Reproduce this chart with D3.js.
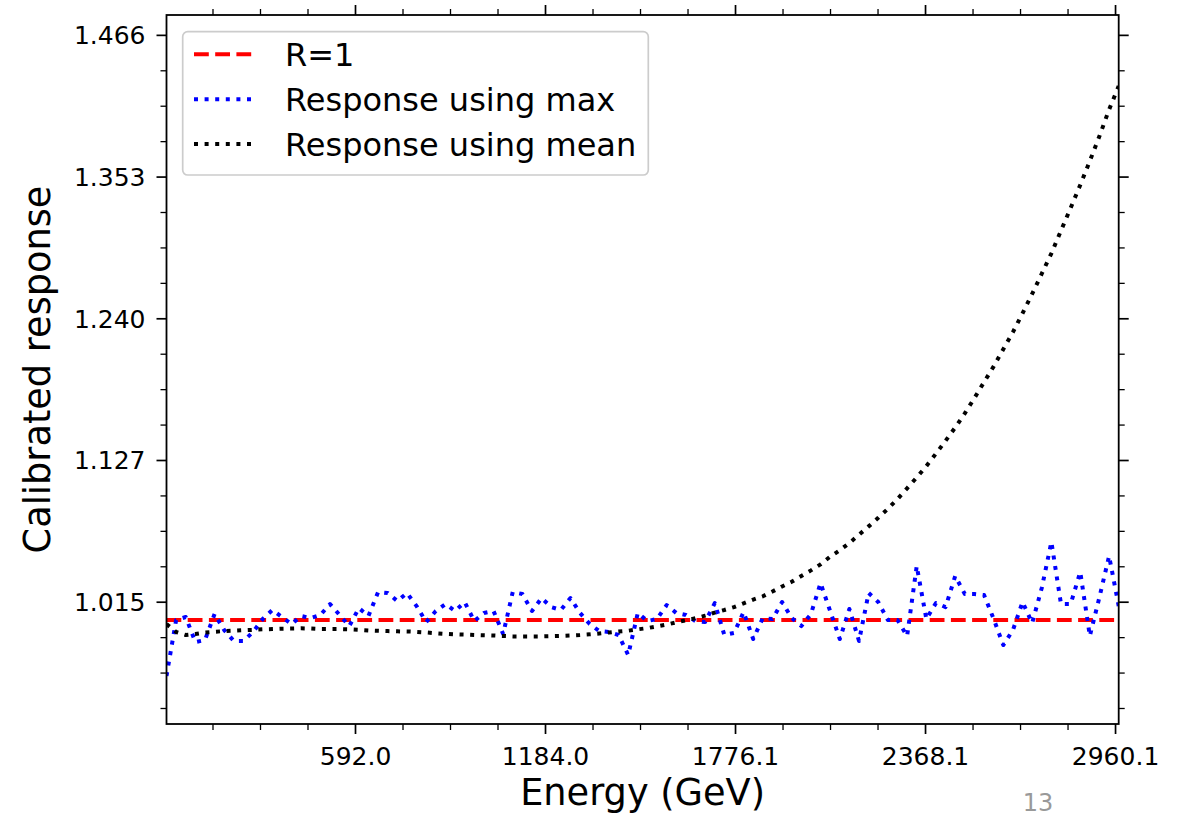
<!DOCTYPE html>
<html>
<head>
<meta charset="utf-8">
<script src="https://cdn.jsdelivr.net/npm/d3@7"></script>
<style>
  body { margin: 0; background: #fff; }
  svg { display: block; }
  text { font-family: "DejaVu Sans", sans-serif; fill: #000; }
</style>
</head>
<body>
<svg id="chart" width="1186" height="816"></svg>
<script>
// Energy bins (GeV)
const energy = [
  4.7, 34.7, 64.6, 94.6, 124.6, 154.5, 184.5, 214.5, 244.4, 274.4,
  304.4, 334.3, 364.3, 394.3, 424.2, 454.2, 484.2, 514.2, 544.1, 574.1,
  604.1, 634.0, 664.0, 694.0, 723.9, 753.9, 783.9, 813.8, 843.8, 873.8,
  903.7, 933.7, 963.7, 993.6, 1023.6, 1053.6, 1083.5, 1113.5, 1143.5, 1173.5,
  1203.4, 1233.4, 1263.4, 1293.3, 1323.3, 1353.3, 1383.2, 1413.2, 1443.2, 1473.1,
  1503.1, 1533.1, 1563.0, 1593.0, 1623.0, 1652.9, 1682.9, 1712.9, 1742.8, 1772.8,
  1802.8, 1832.7, 1862.7, 1892.7, 1922.7, 1952.6, 1982.6, 2012.6, 2042.5, 2072.5,
  2102.5, 2132.4, 2162.4, 2192.4, 2222.3, 2252.3, 2282.3, 2312.2, 2342.2, 2372.2,
  2402.1, 2432.1, 2462.1, 2492.0, 2522.0, 2552.0, 2582.0, 2611.9, 2641.9, 2671.9,
  2701.8, 2731.8, 2761.8, 2791.7, 2821.7, 2851.7, 2881.6, 2911.6, 2941.6, 2971.5
];

// Calibrated response using the maximum
const responseMax = [
  0.9555, 1.0000, 1.0024, 0.9825, 0.9841, 1.0048, 0.9920, 0.9833, 0.9833, 0.9905,
  1.0008, 1.0080, 1.0024, 0.9968, 1.0032, 1.0016, 1.0040, 1.0127, 1.0040, 0.9952,
  1.0095, 1.0032, 1.0223, 1.0215, 1.0151, 1.0215, 1.0111, 0.9984, 1.0072, 1.0127,
  1.0072, 1.0143, 0.9992, 1.0056, 1.0072, 0.9889, 1.0223, 1.0207, 1.0072, 1.0175,
  1.0103, 1.0080, 1.0175, 1.0056, 0.9968, 0.9912, 0.9905, 0.9881, 0.9722, 1.0056,
  0.9992, 1.0008, 1.0119, 1.0056, 1.0040, 0.9992, 0.9984, 1.0135, 0.9881, 0.9897,
  1.0064, 0.9849, 1.0016, 1.0008, 1.0143, 1.0016, 0.9952, 1.0048, 1.0294, 1.0072,
  0.9849, 1.0088, 0.9833, 1.0215, 1.0143, 1.0000, 1.0000, 0.9873, 1.0430, 1.0008,
  1.0135, 1.0103, 1.0350, 1.0207, 1.0207, 1.0199, 1.0008, 0.9801, 0.9920, 1.0143,
  0.9976, 1.0255, 1.0621, 1.0127, 1.0127, 1.0382, 0.9873, 1.0183, 1.0509, 1.0111
];

// Calibrated response using the mean
const responseMean = [
  0.9968, 0.9905, 0.9881, 0.9889, 0.9901, 0.9907, 0.9912, 0.9915, 0.9919, 0.9922,
  0.9926, 0.9928, 0.9931, 0.9932, 0.9934, 0.9932, 0.9928, 0.9928, 0.9928, 0.9926,
  0.9922, 0.9917, 0.9914, 0.9912, 0.9910, 0.9909, 0.9906, 0.9901, 0.9895, 0.9890,
  0.9886, 0.9884, 0.9881, 0.9879, 0.9877, 0.9873, 0.9870, 0.9870, 0.9870, 0.9870,
  0.9872, 0.9874, 0.9877, 0.9881, 0.9886, 0.9893, 0.9901, 0.9909, 0.9915, 0.9926,
  0.9936, 0.9950, 0.9964, 0.9982, 0.9998, 1.0014, 1.0035, 1.0059, 1.0080, 1.0103,
  1.0133, 1.0163, 1.0189, 1.0227, 1.0267, 1.0304, 1.0350, 1.0395, 1.0443, 1.0504,
  1.0555, 1.0613, 1.0679, 1.0745, 1.0813, 1.0885, 1.0963, 1.1048, 1.1134, 1.1225,
  1.1324, 1.1426, 1.1531, 1.1644, 1.1766, 1.1893, 1.2018, 1.2154, 1.2290, 1.2440,
  1.2594, 1.2755, 1.2917, 1.3098, 1.3278, 1.3461, 1.3652, 1.3850, 1.4061, 1.4248
];

const referenceLevel = 1;

const xTickValues = [592.02, 1184.04, 1776.06, 2368.08, 2960.1];
const xTickLabels = ["592.0", "1184.0", "1776.1", "2368.1", "2960.1"];
const yTickValues = [1.01458, 1.12731, 1.24004, 1.35277, 1.4655];
const yTickLabels = ["1.015", "1.127", "1.240", "1.353", "1.466"];
const yLimits = [0.9173, 1.4813];

const legendLabels = ["R=1", "Response using max", "Response using mean"];
const xTitle = "Energy (GeV)";
const yTitle = "Calibrated response";
const pageNumber = "13";

// ---- layout ----
const plot = { left: 166.5, right: 1118.7, top: 15, bottom: 724 };
const svg = d3.select("#chart");

const x = d3.scaleLinear().domain(d3.extent(energy)).range([plot.left, plot.right]);
const y = d3.scaleLinear().domain(yLimits).range([plot.bottom, plot.top]);

// minor tick positions: four subdivisions between major ticks
function minorTicks(major, lo, hi) {
  const step = (major[1] - major[0]) / 4;
  const out = [];
  for (let v = major[0] - 8 * step; v <= hi + 1e-9; v += step) {
    if (v >= lo - 1e-9) out.push(v);
  }
  return out.filter(v => !major.some(m => Math.abs(m - v) < step / 10));
}
const xMinor = minorTicks(xTickValues, x.domain()[0], x.domain()[1]);
const yMinor = minorTicks(yTickValues, yLimits[0], yLimits[1]);

const MAJOR = 10, MINOR = 6;

function styleAxis(g, width) {
  g.select(".domain").remove();
  g.selectAll(".tick line").attr("stroke", "#000").attr("stroke-width", width);
}

// bottom axis
const gB = svg.append("g").attr("transform", `translate(0,${plot.bottom})`);
gB.call(d3.axisBottom(x).tickValues(xTickValues).tickSize(MAJOR).tickSizeOuter(0)
  .tickFormat((d, i) => xTickLabels[i]));
styleAxis(gB, 1.7);
gB.selectAll(".tick text").attr("font-size", 25).attr("y", 0).attr("dy", "41px")
  .attr("font-family", "DejaVu Sans");
const gBm = svg.append("g").attr("transform", `translate(0,${plot.bottom})`);
gBm.call(d3.axisBottom(x).tickValues(xMinor).tickSize(MINOR).tickFormat(""));
styleAxis(gBm, 1.3);

// top axis (ticks only)
const gT = svg.append("g").attr("transform", `translate(0,${plot.top})`);
gT.call(d3.axisTop(x).tickValues(xTickValues).tickSize(MAJOR).tickFormat(""));
styleAxis(gT, 1.7);
const gTm = svg.append("g").attr("transform", `translate(0,${plot.top})`);
gTm.call(d3.axisTop(x).tickValues(xMinor).tickSize(MINOR).tickFormat(""));
styleAxis(gTm, 1.3);

// left axis
const gL = svg.append("g").attr("transform", `translate(${plot.left},0)`);
gL.call(d3.axisLeft(y).tickValues(yTickValues).tickSize(MAJOR).tickSizeOuter(0)
  .tickFormat((d, i) => yTickLabels[i]));
styleAxis(gL, 1.7);
gL.selectAll(".tick text").attr("font-size", 25).attr("x", -21).attr("dy", "0.35em")
  .attr("font-family", "DejaVu Sans");
const gLm = svg.append("g").attr("transform", `translate(${plot.left},0)`);
gLm.call(d3.axisLeft(y).tickValues(yMinor).tickSize(MINOR).tickFormat(""));
styleAxis(gLm, 1.3);

// right axis (ticks only)
const gR = svg.append("g").attr("transform", `translate(${plot.right},0)`);
gR.call(d3.axisRight(y).tickValues(yTickValues).tickSize(MAJOR).tickFormat(""));
styleAxis(gR, 1.7);
const gRm = svg.append("g").attr("transform", `translate(${plot.right},0)`);
gRm.call(d3.axisRight(y).tickValues(yMinor).tickSize(MINOR).tickFormat(""));
styleAxis(gRm, 1.3);

// clip to the axes box
svg.append("clipPath").attr("id", "plot-clip").append("rect")
  .attr("x", plot.left).attr("y", plot.top)
  .attr("width", plot.right - plot.left).attr("height", plot.bottom - plot.top);

const series = [
  { label: legendLabels[0], color: "#ff0000", dash: "14.8 6.4",
    values: energy.map(() => referenceLevel) },
  { label: legendLabels[1], color: "#0000ff", dash: "4 6.6", values: responseMax },
  { label: legendLabels[2], color: "#000000", dash: "4 6.6", values: responseMean }
];

const line = d3.line().x(d => x(d[0])).y(d => y(d[1]));
const lines = svg.append("g").attr("clip-path", "url(#plot-clip)");
series.forEach(s => {
  lines.append("path")
    .attr("d", line(energy.map((e, i) => [e, s.values[i]])))
    .attr("fill", "none")
    .attr("stroke", s.color)
    .attr("stroke-width", 4)
    .attr("stroke-dasharray", s.dash)
    .attr("stroke-linecap", "butt")
    .attr("stroke-linejoin", "round");
});

// axes frame
svg.append("rect")
  .attr("x", plot.left).attr("y", plot.top)
  .attr("width", plot.right - plot.left).attr("height", plot.bottom - plot.top)
  .attr("fill", "none").attr("stroke", "#000").attr("stroke-width", 1.8);

// legend
const legend = svg.append("g");
legend.append("rect")
  .attr("x", 182.7).attr("y", 31.7).attr("width", 465.6).attr("height", 143.3)
  .attr("rx", 5).attr("ry", 5)
  .attr("fill", "#fff").attr("fill-opacity", 0.8)
  .attr("stroke", "#cccccc").attr("stroke-width", 1.7);
const rowY = [54.3, 99.3, 144];
series.forEach((s, i) => {
  legend.append("line")
    .attr("x1", 194).attr("x2", 252).attr("y1", rowY[i]).attr("y2", rowY[i])
    .attr("stroke", s.color).attr("stroke-width", 4)
    .attr("stroke-dasharray", s.dash);
  legend.append("text")
    .attr("x", 285).attr("y", rowY[i] + 11.6)
    .attr("font-size", 32)
    .text(s.label);
});

// axis titles
svg.append("text")
  .attr("x", (plot.left + plot.right) / 2).attr("y", 805)
  .attr("text-anchor", "middle").attr("font-size", 36.7)
  .text(xTitle);
svg.append("text")
  .attr("transform", `translate(50,${(plot.top + plot.bottom) / 2}) rotate(-90)`)
  .attr("text-anchor", "middle").attr("font-size", 36.7)
  .text(yTitle);

// slide page number
svg.append("text")
  .attr("x", 1038).attr("y", 811)
  .attr("text-anchor", "middle").attr("font-size", 24)
  .attr("font-family", "Lato, 'Open Sans', sans-serif")
  .style("fill", "#999999")
  .text(pageNumber);
</script>
</body>
</html>
